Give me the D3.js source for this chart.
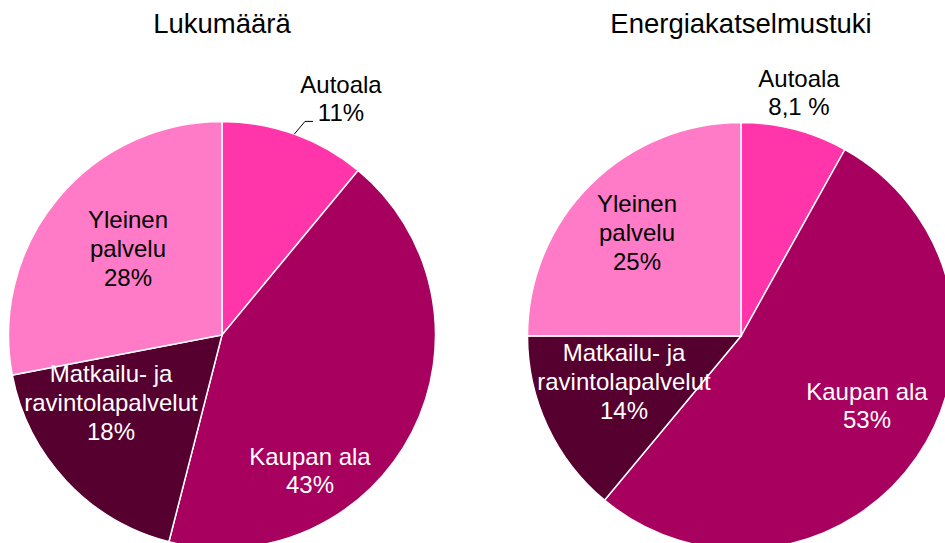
<!DOCTYPE html>
<html>
<head>
<meta charset="utf-8">
<script src="https://cdn.jsdelivr.net/npm/d3@7"></script>
<style>
  html, body { margin: 0; padding: 0; background: #fff; }
  svg { display: block; font-family: Arial, "Liberation Sans", sans-serif; }
</style>
</head>
<body>
<svg id="chart" width="945" height="543"></svg>
<script>
// --- data ---
const categories = ['Autoala', 'Kaupan ala', 'Matkailu- ja ravintolapalvelut', 'Yleinen palvelu'];
const chartTitles = ['Lukumäärä', 'Energiakatselmustuki'];
const countValues = [11, 43, 18, 28];
const supportValues = [8.1, 53, 14, 25];
const countLabels = ['11%', '43%', '18%', '28%'];
const supportLabels = ['8,1 %', '53%', '14%', '25%'];

// label lines per category
const labelLines = [['Autoala'], ['Kaupan ala'], ['Matkailu- ja', 'ravintolapalvelut'], ['Yleinen', 'palvelu']];

const colors = ['#FF35A9', '#A7005E', '#560030', '#FF7BC8'];
const textColors = ['#000', '#fff', '#fff', '#000'];

// layout: label block offsets from pie centre (x = text centre, y = middle baseline)
const countLabelPos = [[119, -228], [88, 144], [-111, 76], [-94, -78]];
const supportLabelPos = [[58, -235], [126, 78], [-117, 54], [-104, -95]];

const svg = d3.select('#chart');
const R = 213.5;
const FONT = 24, LINE = 28.8;

const charts = [
  { title: chartTitles[0], values: countValues, labels: countLabels, pos: countLabelPos, cx: 222, cy: 335, leader: [true, false, false, false] },
  { title: chartTitles[1], values: supportValues, labels: supportLabels, pos: supportLabelPos, cx: 741, cy: 336, leader: [false, false, false, false] }
];

const pie = d3.pie().sort(null).value(d => d.value);
const arc = d3.arc().innerRadius(0).outerRadius(R);

charts.forEach(c => {
  const g = svg.append('g').attr('transform', `translate(${c.cx},${c.cy})`);
  const data = categories.map((cat, i) => ({ cat, i, value: c.values[i] }));
  const arcs = pie(data);

  g.selectAll('path.slice')
    .data(arcs)
    .join('path')
    .attr('class', 'slice')
    .attr('d', arc)
    .attr('fill', d => colors[d.data.i])
    .attr('stroke', '#fff')
    .attr('stroke-width', 1.5);

  // title
  svg.append('text')
    .attr('x', c.cx)
    .attr('y', 33)
    .attr('text-anchor', 'middle')
    .attr('font-size', 27.5)
    .attr('fill', '#000')
    .text(c.title);

  // labels
  arcs.forEach(a => {
    const i = a.data.i;
    const lines = labelLines[i].concat([c.labels[i]]);
    const [dx, dy] = c.pos[i];
    const n = lines.length;
    lines.forEach((ln, k) => {
      g.append('text')
        .attr('x', dx)
        .attr('y', dy + (k - (n - 1) / 2) * LINE)
        .attr('text-anchor', 'middle')
        .attr('font-size', FONT)
        .attr('fill', textColors[i])
        .text(ln);
    });

    if (c.leader[i]) {
      const mid = (a.startAngle + a.endAngle) / 2;
      const x0 = Math.sin(mid) * R, y0 = -Math.cos(mid) * R;
      const yL = dy + (n - 1) / 2 * LINE;
      const xL = dx - 28;
      g.append('path')
        .attr('d', d3.line()([[x0, y0], [xL - 8, yL], [xL, yL]]))
        .attr('fill', 'none')
        .attr('stroke', '#000')
        .attr('stroke-width', 1);
    }
  });
});
</script>
</body>
</html>
